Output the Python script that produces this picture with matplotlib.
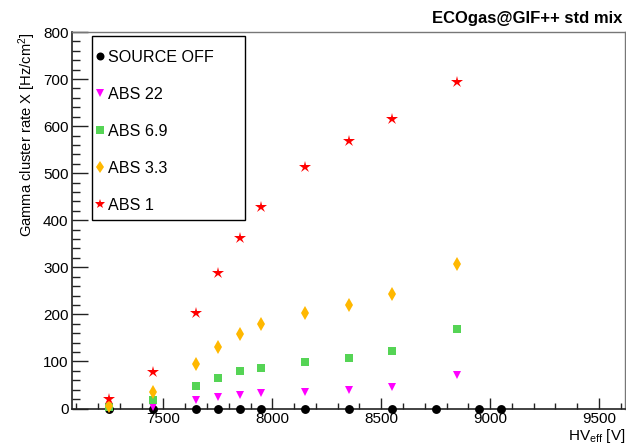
import matplotlib
matplotlib.use("Agg")
import matplotlib.pyplot as plt
from matplotlib.ticker import MultipleLocator
from matplotlib.patches import Rectangle

plt.rcParams['font.family'] = ['Liberation Sans', 'DejaVu Sans']
plt.rcParams['mathtext.default'] = 'regular'

# ---- data ----
hv_off = [7250, 7450, 7650, 7750, 7850, 7950, 8150, 8350, 8550, 8750, 8950, 9050]
rate_off = [0, 0, 0, 0, 0, 0, 0, 0, 0, 0, 0, 0]

hv_src = [7250, 7450, 7650, 7750, 7850, 7950, 8150, 8350, 8550, 8850]
rate_abs22 = [1, 3, 18, 24, 29, 32, 36, 39, 45, 71]
rate_abs69 = [4, 18, 48, 65, 80, 87, 98, 107, 122, 169]
rate_abs33 = [6, 34, 94, 130, 158, 179, 202, 220, 243, 307]
rate_abs1 = [20, 78, 203, 288, 363, 429, 514, 568, 615, 693]

labels = ["SOURCE OFF", "ABS 22", "ABS 6.9", "ABS 3.3", "ABS 1"]
title = "ECOgas@GIF++ std mix"

W, H = 626, 446
fig = plt.figure(figsize=(W / 100, H / 100), dpi=100)
ax = fig.add_axes([72 / W, 1 - 408.5 / H, (625.5 - 72) / W, (408.5 - 32) / H])

series = [
    (hv_off, rate_off, 'o', '#000000', 6.4),
    (hv_src, rate_abs22, 'v', '#ff00ff', 6.3),
    (hv_src, rate_abs69, 's', '#55d455', 6.2),
    (hv_src, rate_abs33, 'd', '#ffb800', 7.0),
    (hv_src, rate_abs1, '*', '#ff0000', 8.6),
]
for (x, y, m, c, ms), lab in zip(series, labels):
    ax.plot(x, y, linestyle='none', marker=m, color=c, markersize=ms,
            markeredgewidth=0, label=lab, clip_on=False, zorder=3)

ax.set_xlim(7080, 9622)
ax.set_ylim(0, 800)
ax.xaxis.set_major_locator(MultipleLocator(500))
ax.xaxis.set_minor_locator(MultipleLocator(100))
ax.yaxis.set_major_locator(MultipleLocator(100))
ax.yaxis.set_minor_locator(MultipleLocator(20))

ax.tick_params(axis='x', which='major', direction='in', length=8, width=1, labelsize=11, pad=2.5, color='#222222')
ax.tick_params(axis='x', which='minor', direction='in', length=4, width=1, color='#222222')
ax.tick_params(axis='y', which='major', direction='in', length=11.3, width=1, labelsize=11, pad=2.5, color='#222222')
ax.tick_params(axis='y', which='minor', direction='in', length=5.8, width=1, color='#222222')

for s in ['left', 'bottom']:
    ax.spines[s].set_color('#222222')
    ax.spines[s].set_linewidth(1.2)
for s in ['top', 'right']:
    ax.spines[s].set_color('#777777')
    ax.spines[s].set_linewidth(1.0)

ax.set_xlabel('HV$_{eff}$ [V]', fontsize=11, loc='right', labelpad=0.5)
ax.set_ylabel('Gamma cluster rate X [Hz/cm$^{2}$]', fontsize=10.6, loc='top', labelpad=3.5)

# legend frame (ROOT style box with light shadow)
fig.patches.append(Rectangle((93.3 / W, 1 - 221 / H), (245 - 92.3) / W, (220 - 36) / H,
                             transform=fig.transFigure, facecolor='#aaaaaa', edgecolor='none', zorder=4))
fig.patches.append(Rectangle((92.3 / W, 1 - 220 / H), (245 - 92.3) / W, (220 - 36) / H,
                             transform=fig.transFigure, facecolor='white', edgecolor='black',
                             linewidth=1.0, zorder=5))
leg = ax.legend(loc='upper left', bbox_to_anchor=(96.3 / W, 1 - 50 / H),
                bbox_transform=fig.transFigure, borderaxespad=0, borderpad=0,
                fontsize=11.6, frameon=False, labelspacing=1.36,
                handlelength=0.45, handletextpad=0.28, markerscale=0.9)
leg.set_zorder(6)
leg.remove()
fig.legends.append(leg)
leg.figure = fig

fig.text(622.7 / W, 1 - 23.3 / H, title, ha='right', va='baseline', fontsize=12, fontweight='bold')

fig.savefig('out.png', dpi=100)
